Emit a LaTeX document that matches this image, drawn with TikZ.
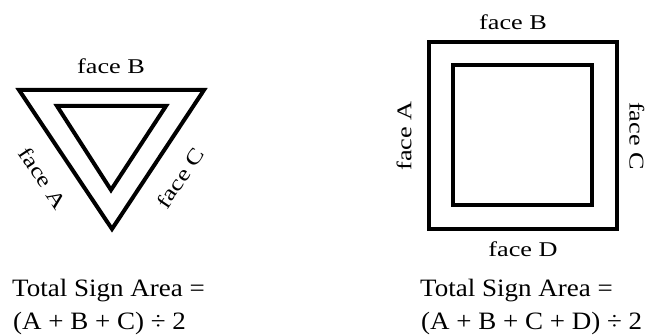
\documentclass[tikz,border=0pt]{standalone}
\usepackage{fontspec}
\setmainfont{Liberation Serif}
\newfontfamily\lblfont[FakeStretch=1.25]{Liberation Serif}
\newfontfamily\capfont[FakeStretch=1.08]{Liberation Serif}
\begin{document}
\begin{tikzpicture}[x=1pt,y=-1pt,
  frame/.style={line width=4pt,line join=miter},
  lbl/.style={inner sep=0pt,font=\lblfont\fontsize{21}{24}\selectfont},
  captxt/.style={inner sep=0pt,anchor=base west,font=\capfont\fontsize{25}{28}\selectfont}]
\useasboundingbox (0,0) rectangle (669,336);
% triangle
\draw[frame] (19,90) -- (204,90) -- (112,229) -- cycle;
\draw[frame] (57,106) -- (166,106) -- (111,190) -- cycle;
% square
\draw[frame] (429,42) rectangle (617,229);
\draw[frame] (453,65) rectangle (592,205);
% labels triangle
\node[lbl] (tB) at (111,66) {face B};
\node[lbl,rotate=-56] (tA) at (43,178) {face A};
\node[lbl,rotate=56] (tC) at (180,178) {face C};
% labels square
\node[lbl] (sB) at (513,22) {face B};
\node[lbl] (sD) at (523,249) {face D};
\node[lbl,rotate=90] (sA) at (404,136) {face A};
\node[lbl,rotate=-90] (sC) at (637,136) {face C};
% captions
\node[captxt] (c1) at (12,297) {Total Sign Area =};
\node[captxt] (c2) at (13,330) {(A + B + C) ÷ 2};
\node[captxt] (c3) at (420,297) {Total Sign Area =};
\node[captxt] (c4) at (421,330) {(A + B + C + D) ÷ 2};
\end{tikzpicture}
\end{document}
